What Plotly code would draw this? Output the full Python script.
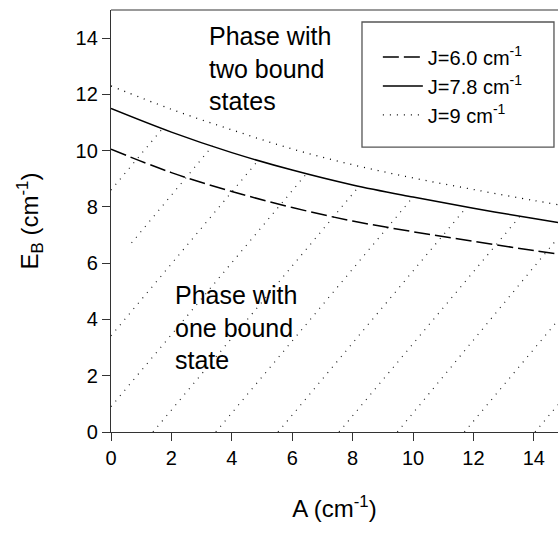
import plotly.graph_objects as go

# ---- data ----
A_vals = [0, 2, 4, 6, 8, 10, 12, 14, 14.8]
E_J60 = [10.05, 9.22, 8.55, 7.98, 7.50, 7.12, 6.78, 6.45, 6.33]
E_J78 = [11.50, 10.66, 9.93, 9.31, 8.78, 8.35, 7.95, 7.59, 7.45]
E_J90 = [12.30, 11.47, 10.74, 10.06, 9.50, 9.03, 8.62, 8.23, 8.08]

series_names = ["J=6.0 cm<sup>-1</sup>", "J=7.8 cm<sup>-1</sup>", "J=9 cm<sup>-1</sup>"]

# hatch lines of the one-bound-state phase (start -> end points)
hatch_start_A = [0.0, 0.68, 0.0, 0.0, 1.39, 3.47, 5.53, 7.55, 9.48, 11.70, 14.04]
hatch_start_E = [8.60, 6.72, 3.42, 0.90, 0.0, 0.0, 0.0, 0.0, 0.0, 0.0, 0.0]
hatch_end_A = [1.70, 3.36, 4.88, 6.47, 8.21, 10.00, 11.77, 13.55, 14.8, 14.8, 14.8]
hatch_end_E = [10.78, 10.17, 9.66, 9.18, 8.73, 8.35, 7.99, 7.68, 6.90, 3.97, 0.97]

x_ticks = [0, 2, 4, 6, 8, 10, 12, 14]
y_ticks = [0, 2, 4, 6, 8, 10, 12, 14]

FONT = "Arial, Liberation Sans, sans-serif"

fig = go.Figure()

hx, hy = [], []
for a0, e0, a1, e1 in zip(hatch_start_A, hatch_start_E, hatch_end_A, hatch_end_E):
    hx += [a0, a1, None]
    hy += [e0, e1, None]
fig.add_trace(go.Scatter(x=hx, y=hy, mode="lines", showlegend=False, hoverinfo="skip",
                         line=dict(color="#222", width=1.2, dash="1px,6px")))

fig.add_trace(go.Scatter(x=A_vals, y=E_J60, mode="lines", name=series_names[0],
                         legendgroup="a", line=dict(color="black", width=1.5, dash="16px,5px", shape="spline")))
fig.add_trace(go.Scatter(x=A_vals, y=E_J78, mode="lines", name=series_names[1],
                         legendgroup="b", line=dict(color="black", width=1.5, shape="spline")))
fig.add_trace(go.Scatter(x=A_vals, y=E_J90, mode="lines", name=series_names[2],
                         legendgroup="c", line=dict(color="black", width=1.3, dash="1px,6px", shape="spline")))

W, H = 558, 535
L, R, T, B = 111, 0, 10, 103

fig.update_layout(
    width=W, height=H,
    margin=dict(l=L, r=R, t=T, b=B, pad=0),
    paper_bgcolor="white", plot_bgcolor="white",
    font=dict(family=FONT, size=20, color="black"),
    showlegend=True,
    legend=dict(x=0.597, y=0.935, xanchor="left", yanchor="top",
                bgcolor="rgba(0,0,0,0)", borderwidth=0, itemwidth=40,
                font=dict(size=20, family=FONT, color="black"),
                tracegroupgap=0, traceorder="grouped"),
    xaxis=dict(range=[0, 14.8], tickvals=x_ticks, ticks="outside", ticklen=8, tickwidth=1.3,
               tickcolor="#333", showline=True, linecolor="#333", linewidth=1.3,
               showgrid=False, zeroline=False,
               title=dict(text="A (cm<sup>-1</sup>)", font=dict(size=24, family=FONT), standoff=32)),
    yaxis=dict(range=[0, 15], tickvals=y_ticks, ticks="outside", ticklen=8, tickwidth=1.3,
               tickcolor="#333", showline=True, linecolor="#333", linewidth=1.3,
               showgrid=False, zeroline=False,
               title=dict(text="E<sub>B</sub> (cm<sup>-1</sup>)", font=dict(size=24, family=FONT), standoff=30)),
    shapes=[
        dict(type="line", xref="paper", yref="paper", x0=0, x1=1, y0=1, y1=1,
             line=dict(color="#777", width=1.3)),
        dict(type="rect", xref="paper", yref="paper", x0=0.5615, x1=0.991, y0=0.675, y1=0.9716,
             line=dict(color="#555", width=1.3), fillcolor="rgba(0,0,0,0)"),
    ],
    annotations=[
        dict(x=3.18, y=14.65, xref="x", yref="y", xanchor="left", yanchor="top", align="left",
             showarrow=False, text="Phase with<br>two bound<br>states",
             font=dict(size=25, family=FONT, color="black")),
        dict(x=2.05, y=5.45, xref="x", yref="y", xanchor="left", yanchor="top", align="left",
             showarrow=False, text="Phase with<br>one bound<br>state",
             font=dict(size=25, family=FONT, color="black")),
    ],
)

# remove the page's default body margin and scrollbars so the figure fills the window
fig.write_html("out.html", config={"displayModeBar": False},
               post_script="document.body.style.margin='0';document.body.style.overflow='hidden';")
